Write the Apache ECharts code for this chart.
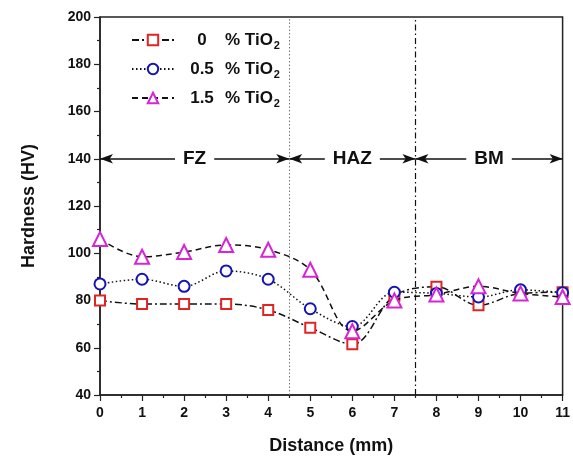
<!DOCTYPE html>
<html>
<head>
<meta charset="utf-8">
<script src="https://cdn.jsdelivr.net/npm/echarts@6/dist/echarts.min.js"></script>
<style>
  html, body { margin: 0; padding: 0; background: #fff; }
  #chart { width: 573px; height: 461px; }
</style>
</head>
<body>
<div id="chart"></div>
<script>
const distance = [0, 1, 2, 3, 4, 5, 6, 7, 8, 9, 10, 11]
const tio2_0 = [80, 78.5, 78.5, 78.5, 76, 68.5, 61.5, 82, 85.8, 78, 83, 83.5]
const tio2_05 = [87, 89, 86, 92.5, 89, 76.5, 69, 83.5, 83, 81.5, 84.5, 83.3]
const tio2_15 = [106, 98.5, 100.5, 103.5, 101.5, 93, 67, 80, 82.5, 86, 83, 81.5]
const seriesNames = ['0', '0.5', '1.5']
const zoneNames = ['FZ', 'HAZ', 'BM']
const zoneBounds = [0, 4.5, 7.5, 11]
const zoneLevel = 140

const font = 'Liberation Sans, Arial, sans-serif'
const chart = echarts.init(document.getElementById('chart'), null, { renderer: 'canvas' })

function pairs(ys) {
  return distance.map((x, i) => [x, ys[i]])
}

const zoneLines = zoneNames.map((name, i) => [
  { coord: [zoneBounds[i], zoneLevel], name },
  { coord: [zoneBounds[i + 1], zoneLevel] },
])

chart.setOption({
  animation: false,
  backgroundColor: '#fff',
  grid: {
    left: 100,
    right: 7,
    top: 17,
    bottom: 66,
    show: true,
    borderColor: '#222',
    borderWidth: 1.5,
  },
  legend: {
    orient: 'vertical',
    left: 126,
    top: 25,
    itemWidth: 42,
    itemHeight: 13,
    itemGap: 8,
    data: seriesNames,
    formatter: (name) => `{n|${name}}{p|% TiO}{s|2}`,
    textStyle: {
      rich: {
        n: { fontFamily: font, fontWeight: 'bold', fontSize: 17, color: '#111', width: 46, align: 'center', lineHeight: 22 },
        p: { fontFamily: font, fontWeight: 'bold', fontSize: 17, color: '#111', lineHeight: 22 },
        s: { fontFamily: font, fontWeight: 'bold', fontSize: 11, color: '#111', verticalAlign: 'bottom', lineHeight: 22, padding: [10, 0, 0, 1] },
      },
    },
  },
  xAxis: {
    type: 'value',
    min: 0,
    max: 11,
    interval: 1,
    name: 'Distance (mm)',
    nameLocation: 'middle',
    nameGap: 42,
    nameTextStyle: { fontFamily: font, fontWeight: 'bold', fontSize: 18, color: '#111' },
    axisLine: { show: true, lineStyle: { color: '#222', width: 1.5 } },
    axisTick: { show: true, length: 6, lineStyle: { color: '#222', width: 1.2 } },
    minorTick: { show: true, splitNumber: 2, length: 3, lineStyle: { color: '#222', width: 1.2 } },
    axisLabel: { fontFamily: font, fontWeight: 'bold', fontSize: 14, color: '#111', margin: 11 },
    splitLine: { show: false },
  },
  yAxis: {
    type: 'value',
    min: 40,
    max: 200,
    interval: 20,
    name: 'Hardness (HV)',
    nameLocation: 'middle',
    nameGap: 62,
    nameTextStyle: { fontFamily: font, fontWeight: 'bold', fontSize: 18, color: '#111' },
    axisLine: { show: true, lineStyle: { color: '#222', width: 1.5 } },
    axisTick: { show: true, length: 6, lineStyle: { color: '#222', width: 1.2 } },
    minorTick: { show: true, splitNumber: 2, length: 3, lineStyle: { color: '#222', width: 1.2 } },
    axisLabel: { fontFamily: font, fontWeight: 'bold', fontSize: 14, color: '#111', margin: 9 },
    splitLine: { show: false },
  },
  series: [
    {
      name: seriesNames[0],
      type: 'line',
      data: pairs(tio2_0),
      smooth: 0.35,
      symbol: 'emptyRect',
      symbolSize: 10,
      lineStyle: { color: '#111', width: 1.5, type: [7, 3, 2, 3] },
      itemStyle: { color: '#e02424', borderWidth: 1.8 },
      z: 3,
      markLine: {
        silent: true,
        symbol: ['arrow', 'arrow'],
        symbolSize: [7, 13],
        lineStyle: { color: '#111', width: 1.5, type: 'solid' },
        label: {
          show: true,
          position: 'middle',
          distance: -11,
          formatter: '{b}',
          fontFamily: font,
          fontWeight: 'bold',
          fontSize: 19,
          color: '#111',
          backgroundColor: '#fff',
          padding: [1, 8],
        },
        data: zoneLines,
      },
    },
    {
      name: seriesNames[1],
      type: 'line',
      data: pairs(tio2_05),
      smooth: 0.35,
      symbol: 'emptyCircle',
      symbolSize: 11,
      lineStyle: { color: '#111', width: 1.5, type: [1.5, 2.5] },
      itemStyle: { color: '#1414b4', borderWidth: 1.8 },
      z: 4,
      markLine: {
        silent: true,
        symbol: ['none', 'none'],
        label: { show: false },
        data: [
          { xAxis: zoneBounds[1], lineStyle: { color: '#777', width: 1, type: [1.5, 2] } },
          { xAxis: zoneBounds[2], lineStyle: { color: '#111', width: 1.2, type: [6, 3, 1.5, 3] } },
        ],
      },
    },
    {
      name: seriesNames[2],
      type: 'line',
      data: pairs(tio2_15),
      smooth: 0.35,
      symbol: 'emptyTriangle',
      symbolSize: 14,
      lineStyle: { color: '#111', width: 1.5, type: [6, 4] },
      itemStyle: { color: '#d624d6', borderWidth: 1.8 },
      z: 5,
    },
  ],
})
</script>
</body>
</html>
